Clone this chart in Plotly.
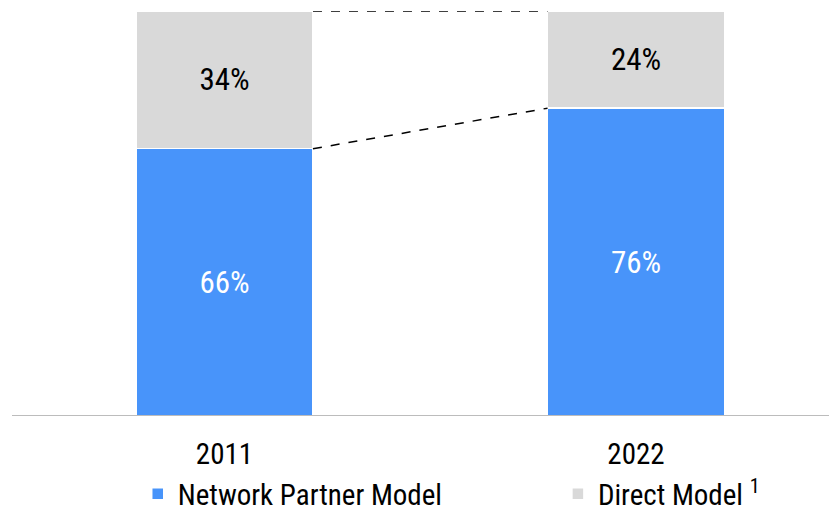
import plotly.graph_objects as go

years = ["2011", "2022"]
network_partner = [66, 76]
direct = [34, 24]

BLUE = "#4894FA"
GRAY = "#D9D9D9"
FONT = "Liberation Sans Narrow, Roboto Condensed, Arial Narrow, sans-serif"
BAR_W = 0.43

xpos = list(range(len(years)))

fig = go.Figure()
fig.add_trace(go.Bar(
    x=xpos, y=network_partner, name="Network Partner Model",
    marker=dict(color=BLUE, line=dict(color="white", width=1.5)),
    width=BAR_W, legend="legend",
    text=[f"{v}%" for v in network_partner], textposition="inside",
    insidetextanchor="middle",
    textfont=dict(color="white", size=31, family=FONT),
))
fig.add_trace(go.Bar(
    x=xpos, y=direct, name="Direct Model <sup>1</sup>",
    marker=dict(color=GRAY, line=dict(color="white", width=1.5)),
    width=BAR_W, legend="legend2",
    text=[f"{v}%" for v in direct], textposition="inside",
    insidetextanchor="middle",
    textfont=dict(color="black", size=31, family=FONT),
))

# dashed connectors between the bar tops and segment boundaries
for i in range(len(years) - 1):
    x0 = xpos[i] + BAR_W / 2
    x1 = xpos[i + 1] - BAR_W / 2
    tops = (network_partner[i] + direct[i], network_partner[i + 1] + direct[i + 1])
    mids = (network_partner[i], network_partner[i + 1])
    for a, b in (tops, mids):
        fig.add_shape(type="line", xref="x", yref="y", x0=x0, x1=x1, y0=a, y1=b,
                      line=dict(color="black", width=1.5, dash="dash"))

leg = dict(orientation="h", xanchor="left", xref="container",
           y=0.036, yanchor="middle", yref="container",
           font=dict(size=29, family=FONT), itemwidth=30)

fig.update_layout(
    barmode="stack",
    width=837, height=504,
    margin=dict(l=4, r=8, t=3, b=96, autoexpand=False),
    plot_bgcolor="white", paper_bgcolor="white",
    font=dict(family=FONT, size=29, color="black"),
    uniformtext=dict(minsize=10, mode="show"),
    showlegend=True,
    legend=dict(leg, x=0.155),
    legend2=dict(leg, x=0.657),
    xaxis=dict(range=[-0.5164, 1.4885], tickvals=xpos, ticktext=years,
               showgrid=False, zeroline=False, showline=False,
               ticks="outside", ticklen=12, tickcolor="rgba(0,0,0,0)"),
    yaxis=dict(range=[0, 100], visible=False, showgrid=False, zeroline=False),
)
# baseline under the bars, running out to the right edge
fig.add_shape(type="line", xref="paper", yref="y", x0=0, x1=1.02, y0=0, y1=0,
              line=dict(color="#A6A6A6", width=1.5))

fig.write_html("out.html")
